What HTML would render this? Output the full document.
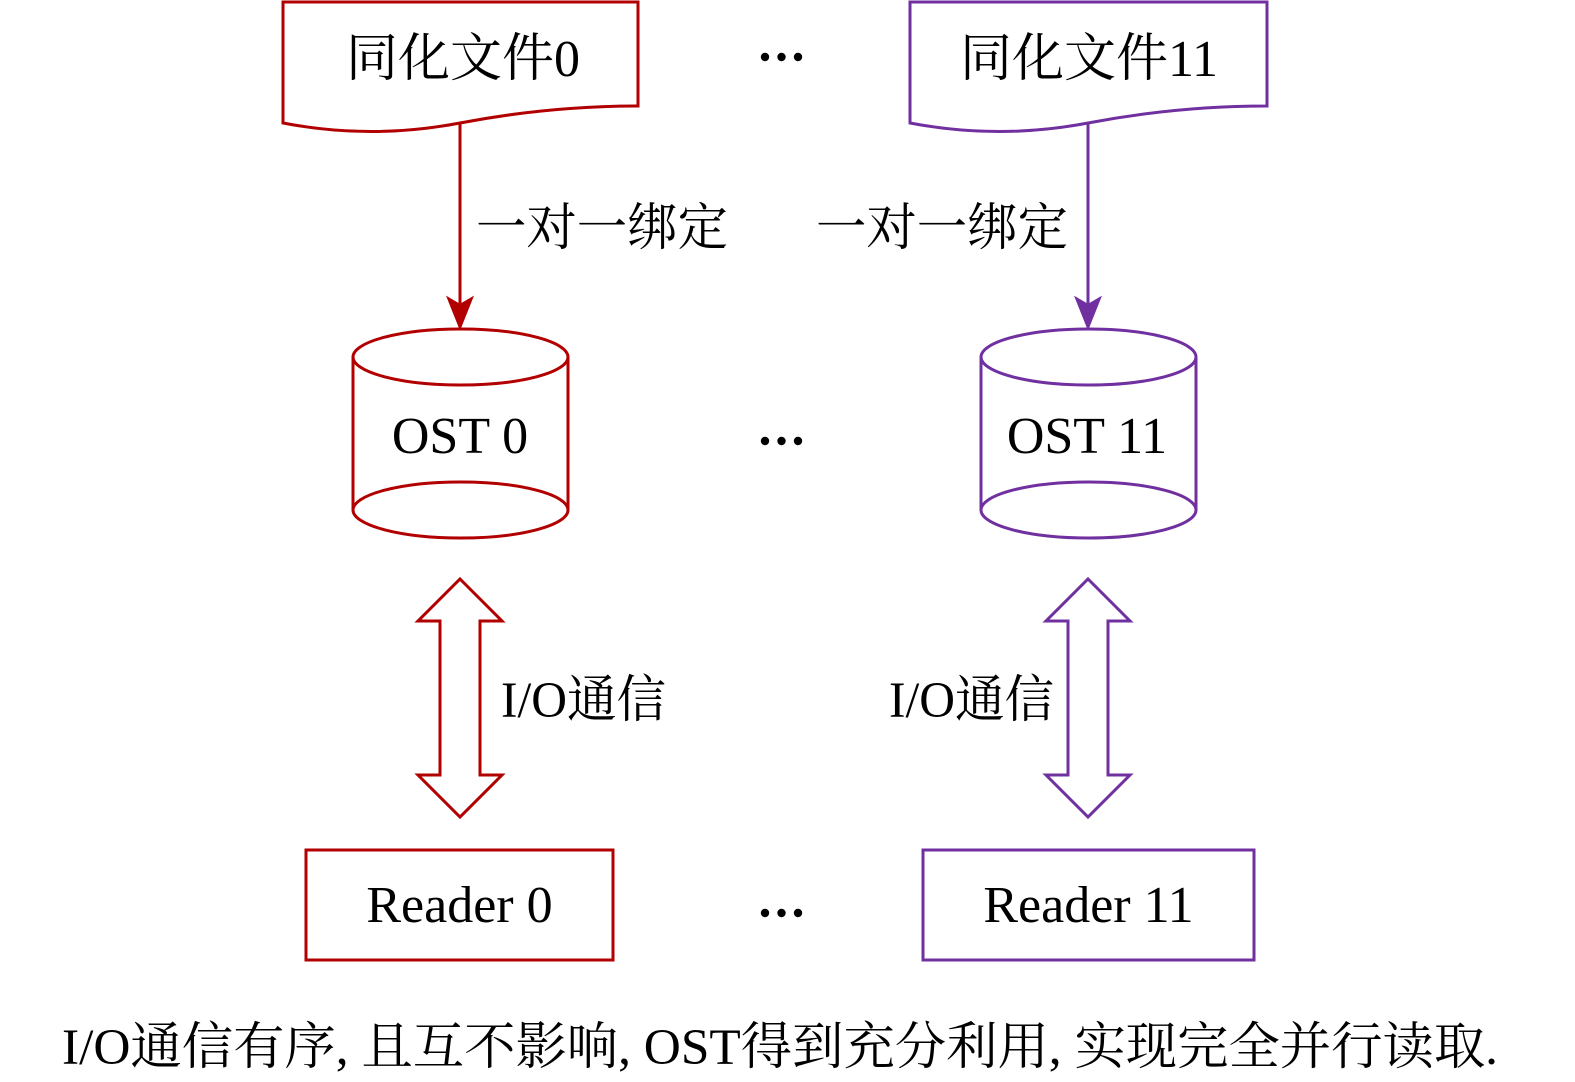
<!DOCTYPE html>
<html>
<head>
<meta charset="utf-8">
<style>
  html, body { margin: 0; padding: 0; background: #ffffff; }
  svg { display: block; }
  text { font-family: "Liberation Serif", "Noto Serif CJK SC", serif; fill: #000; }
</style>
</head>
<body>
<svg width="1575" height="1082" viewBox="0 0 1575 1082" xmlns="http://www.w3.org/2000/svg">
  <rect width="1575" height="1082" fill="#fff"/>

  <!-- ===== Left column (red) ===== -->
  <g fill="#fff" stroke="#B20000" stroke-width="3" stroke-linejoin="miter">
    <!-- document shape -->
    <path d="M283,2 H638 V106 Q549,106 460,123 Q371,140 283,123 Z"/>
    <!-- cylinder -->
    <path d="M353,357 V510 A107.5,28 0 0 0 568,510 V357"/>
    <path d="M353,510 A107.5,28 0 0 1 568,510" fill="none"/>
    <ellipse cx="460.5" cy="357" rx="107.5" ry="28"/>
    <!-- double arrow -->
    <polygon points="460,579 502,621 480,621 480,775 502,775 460,817 418,775 440,775 440,621 418,621"/>
    <!-- reader box -->
    <rect x="306" y="850" width="307" height="110"/>
  </g>
  <!-- connector -->
  <line x1="460" y1="123" x2="460" y2="306" stroke="#B20000" stroke-width="3"/>
  <polygon points="460,328 448,298 460,305 472,298" fill="#B20000" stroke="#B20000" stroke-width="2" stroke-linejoin="miter"/>

  <!-- ===== Right column (purple) ===== -->
  <g fill="#fff" stroke="#7030A0" stroke-width="3" stroke-linejoin="miter">
    <path d="M910,2 H1267 V106 Q1177,106 1088,123 Q999,140 910,123 Z"/>
    <path d="M981,357 V510 A107.5,28 0 0 0 1196,510 V357"/>
    <path d="M981,510 A107.5,28 0 0 1 1196,510" fill="none"/>
    <ellipse cx="1088.5" cy="357" rx="107.5" ry="28"/>
    <polygon points="1088,579 1130,621 1108,621 1108,775 1130,775 1088,817 1046,775 1068,775 1068,621 1046,621"/>
    <rect x="923" y="850" width="331" height="110"/>
  </g>
  <line x1="1088" y1="123" x2="1088" y2="306" stroke="#7030A0" stroke-width="3"/>
  <polygon points="1088,328 1076,298 1088,305 1100,298" fill="#7030A0" stroke="#7030A0" stroke-width="2" stroke-linejoin="miter"/>

  <!-- ===== Ellipsis dots ===== -->
  <g fill="#000">
    <circle cx="765" cy="57" r="4.2"/><circle cx="781.5" cy="57" r="4.2"/><circle cx="798" cy="57" r="4.2"/>
    <circle cx="765" cy="441" r="4.2"/><circle cx="781.5" cy="441" r="4.2"/><circle cx="798" cy="441" r="4.2"/>
    <circle cx="765" cy="913" r="4.2"/><circle cx="781.5" cy="913" r="4.2"/><circle cx="798" cy="913" r="4.2"/>
  </g>

  <!-- ===== Text ===== -->
  <text x="463" y="76" font-size="52" text-anchor="middle">同化文件0</text>
  <text x="1089" y="76" font-size="52" text-anchor="middle">同化文件11</text>

  <text x="476" y="245" font-size="51" textLength="252" lengthAdjust="spacingAndGlyphs">一对一绑定</text>
  <text x="816" y="245" font-size="51" textLength="252" lengthAdjust="spacingAndGlyphs">一对一绑定</text>

  <text x="460" y="453" font-size="52" text-anchor="middle">OST 0</text>
  <text x="1087" y="453" font-size="52" text-anchor="middle">OST 11</text>

  <text x="501" y="717" font-size="51" textLength="165" lengthAdjust="spacingAndGlyphs">I/O通信</text>
  <text x="889" y="717" font-size="51" textLength="165" lengthAdjust="spacingAndGlyphs">I/O通信</text>

  <text x="459.5" y="922" font-size="52" text-anchor="middle">Reader 0</text>
  <text x="1088.5" y="922" font-size="52" text-anchor="middle">Reader 11</text>

  <text x="62" y="1064" font-size="51" textLength="1436" lengthAdjust="spacingAndGlyphs">I/O通信有序, 且互不影响, OST得到充分利用, 实现完全并行读取.</text>
</svg>
</body>
</html>
